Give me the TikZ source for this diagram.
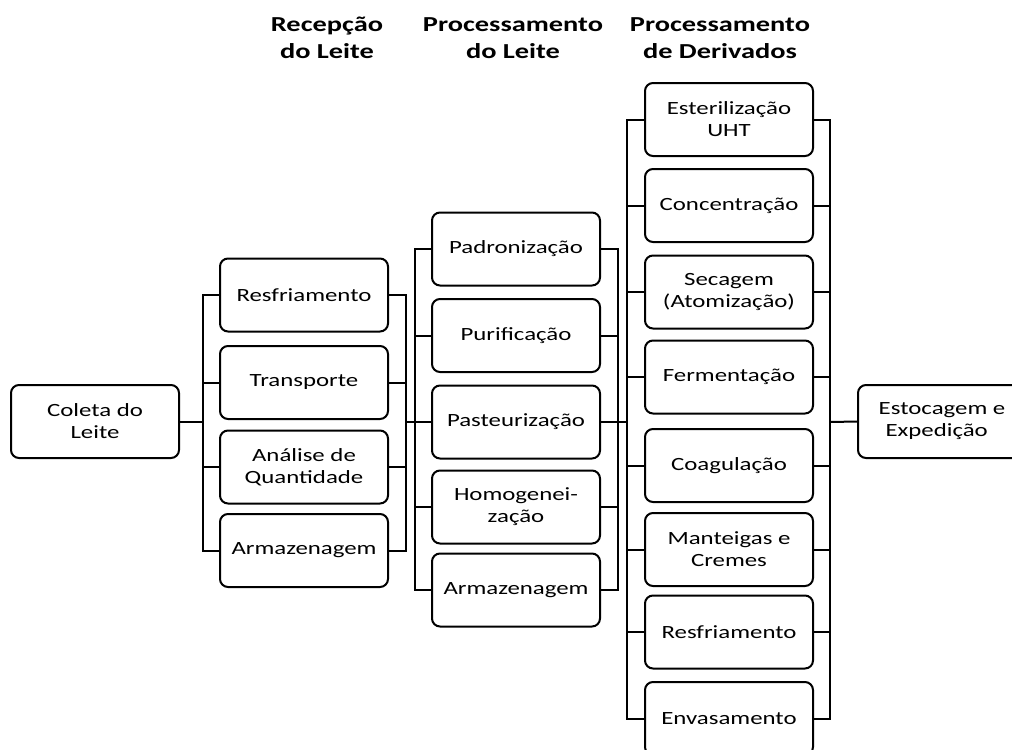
\documentclass[tikz,border=0pt]{standalone}
\usepackage{fontspec}
\setmainfont[FakeStretch=1.33]{Carlito}
\begin{document}
\begin{tikzpicture}[x=0.75pt,y=-0.75pt,
  box/.style={draw, line width=1.5pt, rounded corners=6pt, fill=white,
    minimum width=126pt, minimum height=54.75pt, align=center, inner sep=2pt,
    font=\fontsize{14}{16.5}\selectfont},
  head/.style={align=center, font=\bfseries\fontsize{16}{20}\selectfont},
  link/.style={line width=1.5pt}]
\useasboundingbox (0,0) rectangle (1012,749);
\clip (0,0) rectangle (1012,749);
\fill[white] (0,0) rectangle (1012,749);

% headers
\node[head] (h1) at (327,38) {Recepção\\do Leite};
\node[head] (h2) at (513,38) {Processamento\\do Leite};
\node[head] (h3) at (720,38) {Processamento\\de Derivados};

% start
\node[box] (coleta) at (95,421.5) {Coleta do\\Leite};

% column 1
\node[box] (a1) at (304,295) {Resfriamento};
\node[box] (a2) at (304,382.5) {Transporte};
\node[box] (a3) at (304,467) {Análise de\\Quantidade};
\node[box] (a4) at (304,550.5) {Armazenagem};

% column 2
\node[box] (b1) at (516,249) {Padronização};
\node[box] (b2) at (516,335.5) {Purificação};
\node[box] (b3) at (516,422) {Pasteurização};
\node[box] (b4) at (516,507) {Homogenei-\\zação};
\node[box] (b5) at (516,590) {Armazenagem};

% column 3
\node[box] (c1) at (729,119.5) {Esterilização\\UHT};
\node[box] (c2) at (729,205.5) {Concentração};
\node[box] (c3) at (729,292) {Secagem\\(Atomização)};
\node[box] (c4) at (729,377) {Fermentação};
\node[box] (c5) at (729,465.5) {Coagulação};
\node[box] (c6) at (729,549.5) {Manteigas e\\Cremes};
\node[box] (c7) at (729,632) {Resfriamento};
\node[box] (c8) at (729,718.5) {Envasamento};

% end
\node[box, anchor=west] (estoc) at (857,421.5) {Estocagem e\\Expedição\hspace*{8pt}};

% bus coordinates
\coordinate (p1) at (203,421.5);
\coordinate (q1) at (406,422);
\coordinate (p2) at (415,422);
\coordinate (q2) at (618,422);
\coordinate (p3) at (627,422);
\coordinate (q3) at (830,422);

% connectors
\draw[link] (coleta.east) -- (p1);
\draw[link] (a1.west) -| (p1) |- (a4.west);
\draw[link] (a2.west) -- (a2.west -| p1);
\draw[link] (a3.west) -- (a3.west -| p1);
\draw[link] (a1.east) -| (q1) |- (a4.east);
\draw[link] (a2.east) -- (a2.east -| q1);
\draw[link] (a3.east) -- (a3.east -| q1);
\draw[link] (q1) -- (p2);

\draw[link] (b1.west) -| (p2) |- (b5.west);
\draw[link] (b2.west) -- (b2.west -| p2);
\draw[link] (b3.west) -- (b3.west -| p2);
\draw[link] (b4.west) -- (b4.west -| p2);
\draw[link] (b1.east) -| (q2) |- (b5.east);
\draw[link] (b2.east) -- (b2.east -| q2);
\draw[link] (b3.east) -- (b3.east -| q2);
\draw[link] (b4.east) -- (b4.east -| q2);
\draw[link] (q2) -- (p3);

\draw[link] (c1.west) -| (p3) |- (c8.west);
\foreach \n in {c2,c3,c4,c5,c6,c7}{
  \draw[link] (\n.west) -- (\n.west -| p3);
  \draw[link] (\n.east) -- (\n.east -| q3);
}
\draw[link] (c1.east) -| (q3) |- (c8.east);
\draw[link] (q3) -- (estoc.west);
\end{tikzpicture}
\end{document}
